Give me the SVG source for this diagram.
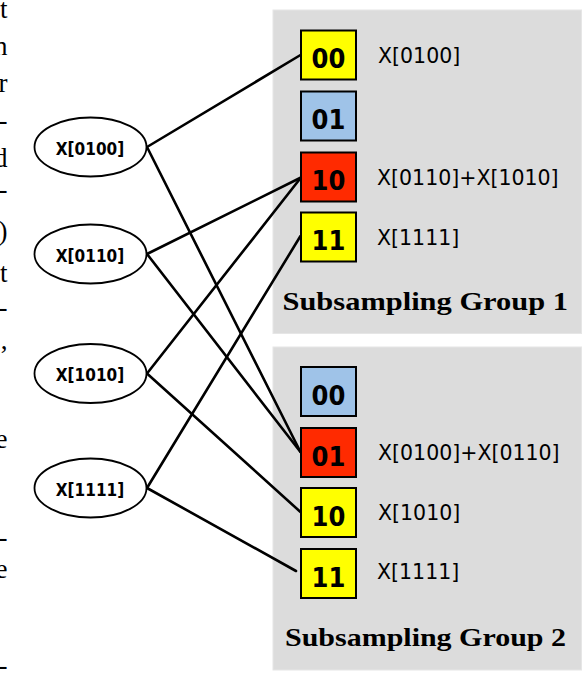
<svg xmlns="http://www.w3.org/2000/svg" width="586" height="674" viewBox="0 0 586 674">
<style>
.bg{fill:#fff}
.panel{fill:#dcdcdc;stroke:#e6e6e6;stroke-width:1}
.box{stroke:#000;stroke-width:2}
.y{fill:#ffff00}
.b{fill:#9fc3e8}
.r{fill:#ff2a00}
.bt{font-family:"DejaVu Sans Condensed","DejaVu Sans","Liberation Sans",sans-serif;font-weight:bold;font-size:27px;text-anchor:middle;fill:#000}
.lbl{font-family:"DejaVu Sans","Liberation Sans",sans-serif;font-size:20.5px;fill:#000}
.ell{fill:#fff;stroke:#000;stroke-width:1.8}
.et{font-family:"DejaVu Sans Condensed","DejaVu Sans","Liberation Sans",sans-serif;font-weight:bold;font-size:17px;text-anchor:middle;fill:#000}
.gt{font-family:"Liberation Serif","Times New Roman",serif;font-weight:bold;font-size:25px;fill:#000}
.mg{font-family:"Liberation Serif","Times New Roman",serif;font-size:27px;text-anchor:end;fill:#000}
.conn line{stroke:#000;stroke-width:2.6;stroke-linecap:round}
</style>
<rect class="bg" x="0" y="0" width="586" height="674"/>
<g id="margin-text">
<text class="mg" x="7.5" y="18">t</text>
<text class="mg" x="7.5" y="55">n</text>
<text class="mg" x="7.5" y="92">r</text>
<text class="mg" x="7.5" y="129">-</text>
<text class="mg" x="7.5" y="167">d</text>
<text class="mg" x="7.5" y="198">-</text>
<text class="mg" x="7.5" y="240">)</text>
<text class="mg" x="7.5" y="282">t</text>
<text class="mg" x="7.5" y="316">-</text>
<text class="mg" x="7.5" y="349">,</text>
<text class="mg" x="7.5" y="448">e</text>
<text class="mg" x="7.5" y="546">-</text>
<text class="mg" x="7.5" y="578">e</text>
<text class="mg" x="7.5" y="674">-</text>
</g>
<g id="group1">
<rect class="panel" x="273" y="10" width="308.5" height="323.5"/>
<text class="gt" x="282.5" y="310" textLength="285.5" lengthAdjust="spacingAndGlyphs">Subsampling Group 1</text>
</g>
<g id="group2">
<rect class="panel" x="273" y="347" width="308.5" height="323"/>
<text class="gt" x="285" y="646" textLength="281" lengthAdjust="spacingAndGlyphs">Subsampling Group 2</text>
</g>
<g id="connectors" class="conn">
<line x1="147" y1="147" x2="300.5" y2="55"/>
<line x1="147" y1="147" x2="300.5" y2="452"/>
<line x1="147" y1="254" x2="301" y2="177.5"/>
<line x1="147" y1="254" x2="300.5" y2="452"/>
<line x1="147" y1="373.5" x2="301" y2="177.5"/>
<line x1="147" y1="373.5" x2="300.5" y2="512"/>
<line x1="147" y1="488" x2="300.5" y2="236"/>
<line x1="147" y1="488" x2="296" y2="571"/>
</g>
<g id="g1-00"><rect class="box y" x="301" y="30.5" width="55" height="49"/><text class="bt" x="328.5" y="68.3">00</text><text class="lbl" x="378" y="62.5">X[0100]</text></g>
<g id="g1-01"><rect class="box b" x="301" y="91.5" width="55" height="49"/><text class="bt" x="328.5" y="129.3">01</text></g>
<g id="g1-10"><rect class="box r" x="301" y="152.5" width="55" height="49"/><text class="bt" x="328.5" y="190.3">10</text><text class="lbl" x="377" y="185">X[0110]+X[1010]</text></g>
<g id="g1-11"><rect class="box y" x="301" y="212.5" width="55" height="49"/><text class="bt" x="328.5" y="250.3">11</text><text class="lbl" x="377" y="244.5">X[1111]</text></g>
<g id="g2-00"><rect class="box b" x="301" y="367" width="55" height="49"/><text class="bt" x="328.5" y="404.8">00</text></g>
<g id="g2-01"><rect class="box r" x="301" y="428" width="55" height="49"/><text class="bt" x="328.5" y="465.8">01</text><text class="lbl" x="378" y="460">X[0100]+X[0110]</text></g>
<g id="g2-10"><rect class="box y" x="301" y="488" width="55" height="49"/><text class="bt" x="328.5" y="525.8">10</text><text class="lbl" x="378" y="519.5">X[1010]</text></g>
<g id="g2-11"><rect class="box y" x="301" y="549" width="55" height="49"/><text class="bt" x="328.5" y="586.8">11</text><text class="lbl" x="377" y="579">X[1111]</text></g>
<g id="e-0100"><ellipse class="ell" cx="90.5" cy="147" rx="56" ry="29.5"/><text class="et" x="90" y="154.5">X[0100]</text></g>
<g id="e-0110"><ellipse class="ell" cx="90.5" cy="254" rx="56" ry="29.5"/><text class="et" x="90" y="261.5">X[0110]</text></g>
<g id="e-1010"><ellipse class="ell" cx="90.5" cy="373.5" rx="56" ry="29.5"/><text class="et" x="90" y="381">X[1010]</text></g>
<g id="e-1111"><ellipse class="ell" cx="90.5" cy="488" rx="56" ry="29.5"/><text class="et" x="90" y="495.5">X[1111]</text></g>
</svg>
